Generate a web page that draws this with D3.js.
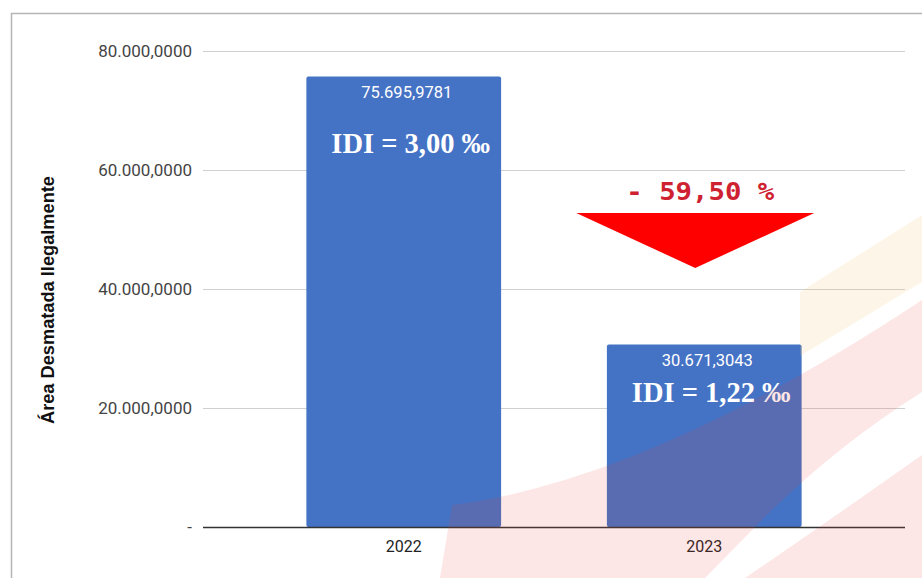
<!DOCTYPE html>
<html>
<head>
<meta charset="utf-8">
<script src="https://cdn.jsdelivr.net/npm/d3@7"></script>
<style>
  body { margin: 0; background: #fff; }
  svg { display: block; }
</style>
</head>
<body>
<div id="chart"></div>
<script>
// Chart data
var years = ["2022", "2023"];
var areas = [75695.9781, 30671.3043];
var idiLabels = ["IDI = 3,00 ‰", "IDI = 1,22 ‰"];
var yTicks = [0, 20000, 40000, 60000, 80000];
var variationLabel = "- 59,50 %";
var yTitle = "Área Desmatada Ilegalmente";

var svgWidth = 922;
var svgHeight = 578;

var margin = { top: 51, bottom: 51, left: 203, right: 17 };
var width = svgWidth - margin.left - margin.right;
var height = svgHeight - margin.top - margin.bottom;

// pt-BR number format
var br = d3.formatLocale({ decimal: ",", thousands: ".", grouping: [3], currency: ["R$", ""] });
var fmt = br.format(",.4f");

var svg = d3.select("#chart")
    .append("svg")
    .attr("width", svgWidth)
    .attr("height", svgHeight);

// outer frame
svg.append("rect")
    .attr("x", 11.5).attr("y", 13.5)
    .attr("width", 930).attr("height", 600)
    .attr("fill", "#fff")
    .attr("stroke", "#b5b5b5")
    .attr("stroke-width", 1.5);

var chartGroup = svg.append("g")
    .attr("transform", `translate(${margin.left}, ${margin.top})`);

var xScale = d3.scaleBand()
    .domain(years)
    .range([0, width])
    .paddingInner(0.352)
    .paddingOuter(0.344);

var yScale = d3.scaleLinear()
    .domain([0, 80000])
    .range([height, 0]);

// gridlines
chartGroup.append("g")
    .selectAll("line")
    .data(yTicks.filter(d => d > 0))
    .enter()
    .append("line")
    .attr("x1", 0)
    .attr("x2", width)
    .attr("y1", d => Math.round(yScale(d)) + 0.5)
    .attr("y2", d => Math.round(yScale(d)) + 0.5)
    .attr("stroke", "#d0d0d0")
    .attr("stroke-width", 1);

// y axis labels
var yAxis = d3.axisLeft(yScale)
    .tickValues(yTicks)
    .tickSize(0)
    .tickPadding(11)
    .tickFormat(d => d === 0 ? "-" : fmt(d));

chartGroup.append("g")
    .call(yAxis)
    .call(g => g.select(".domain").remove())
    .selectAll("text")
    .style("font-family", "Roboto, Arial, sans-serif")
    .style("font-size", "17px")
    .attr("fill", "#444");

// bars
chartGroup.selectAll(".bar")
    .data(years)
    .enter()
    .append("rect")
    .attr("class", "bar")
    .attr("x", d => xScale(d))
    .attr("y", (d, i) => yScale(areas[i]))
    .attr("width", xScale.bandwidth())
    .attr("height", (d, i) => height - yScale(areas[i]))
    .attr("rx", 2)
    .attr("fill", "#4472c4");

// baseline
chartGroup.append("line")
    .attr("x1", 0)
    .attr("x2", width)
    .attr("y1", height + 0.5)
    .attr("y2", height + 0.5)
    .attr("stroke", "#333")
    .attr("stroke-width", 1.3);

// x axis labels
var xAxis = d3.axisBottom(xScale).tickSize(0).tickPadding(14);
chartGroup.append("g")
    .attr("transform", `translate(0, ${height})`)
    .call(xAxis)
    .call(g => g.select(".domain").remove())
    .selectAll("text")
    .style("font-family", "Roboto, Arial, sans-serif")
    .style("font-size", "16px")
    .attr("fill", "#222");

// value labels
chartGroup.selectAll(".value")
    .data(years)
    .enter()
    .append("text")
    .attr("class", "value")
    .attr("x", d => xScale(d) + xScale.bandwidth() / 2 + 3)
    .attr("y", (d, i) => yScale(areas[i]) + 21)
    .attr("text-anchor", "middle")
    .style("font-family", "Roboto, Arial, sans-serif")
    .style("font-size", "16.5px")
    .attr("fill", "#fff")
    .text((d, i) => fmt(areas[i]));

// IDI labels
var idiOffsets = [76, 57];
chartGroup.selectAll(".idi")
    .data(years)
    .enter()
    .append("text")
    .attr("class", "idi")
    .attr("x", d => xScale(d) + xScale.bandwidth() / 2 + 7)
    .attr("y", (d, i) => yScale(areas[i]) + idiOffsets[i])
    .attr("text-anchor", "middle")
    .style("font-family", "'Liberation Serif', 'Times New Roman', serif")
    .style("font-weight", "bold")
    .style("font-size", "28.5px")
    .attr("fill", "#fff")
    .text((d, i) => idiLabels[i]);

// y axis title
svg.append("text")
    .attr("transform", "translate(54, 300) rotate(-90)")
    .attr("text-anchor", "middle")
    .attr("textLength", 248)
    .attr("lengthAdjust", "spacingAndGlyphs")
    .style("font-family", "'Liberation Sans', Arial, sans-serif")
    .style("font-weight", "bold")
    .style("font-size", "18px")
    .attr("fill", "#111")
    .text(yTitle);

// decrease arrow next to 2023
var cx = xScale("2023") + xScale.bandwidth() / 2;
chartGroup.append("path")
    .attr("d", `M${cx - 128},${162} L${cx + 110},${162} L${cx - 9},${217} Z`)
    .attr("fill", "#ff0000");

chartGroup.append("text")
    .attr("x", cx - 4)
    .attr("y", 149)
    .attr("text-anchor", "middle")
    .attr("textLength", 148)
    .attr("lengthAdjust", "spacingAndGlyphs")
    .style("font-family", "'DejaVu Sans Mono', monospace")
    .style("font-weight", "bold")
    .style("font-size", "24px")
    .attr("fill", "#cf2231")
    .text(variationLabel);

// faint watermark stripes (decoration)
var wm = svg.append("g").style("pointer-events", "none");
wm.append("path")
    .attr("d", "M800,292 L922,215 L922,282 L800,356 Z")
    .attr("fill", "rgb(240,200,110)")
    .attr("opacity", 0.16);
wm.append("path")
    .attr("d", "M452,505 Q650,480 922,300 L922,392 Q830,450 755,527 L705,578 L440,578 Z")
    .attr("fill", "rgb(235,70,60)")
    .attr("opacity", 0.13);
wm.append("path")
    .attr("d", "M745,578 Q830,520 922,455 L922,578 Z")
    .attr("fill", "rgb(235,70,60)")
    .attr("opacity", 0.13);
</script>
</body>
</html>
